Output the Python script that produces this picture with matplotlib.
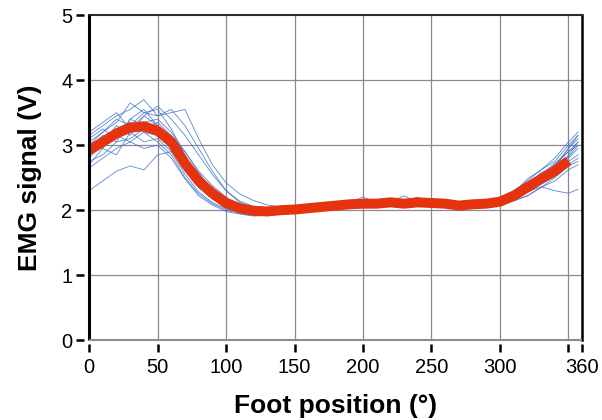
import numpy as np
import matplotlib
matplotlib.use("Agg")
import matplotlib.pyplot as plt

plt.rcParams["font.family"] = ["Liberation Sans", "DejaVu Sans"]

# foot position of the sampled points (degrees)
angles = [0, 10, 20, 30, 40, 50, 60, 70, 80, 90, 100, 110, 120, 130, 140, 150,
          160, 170, 180, 190, 200, 210, 220, 230, 240, 250, 260, 270, 280, 290,
          300, 310, 320, 330, 340, 350, 357]

# single trials (V)
trials = [
    [2.95, 3.15, 3.05, 3.40, 3.30, 3.20, 2.95, 2.60, 2.35, 2.18, 2.05, 2.00, 1.96, 1.95, 1.98, 2.00, 2.02, 2.05, 2.06, 2.08, 2.12, 2.10, 2.14, 2.09, 2.13, 2.10, 2.12, 2.06, 2.08, 2.11, 2.15, 2.25, 2.40, 2.55, 2.72, 2.90, 3.00],
    [2.80, 3.05, 3.30, 3.15, 3.45, 3.30, 3.10, 2.75, 2.45, 2.22, 2.08, 2.02, 1.98, 1.97, 1.99, 2.02, 2.01, 2.04, 2.08, 2.07, 2.09, 2.12, 2.10, 2.13, 2.11, 2.09, 2.11, 2.08, 2.07, 2.12, 2.10, 2.20, 2.30, 2.45, 2.60, 2.85, 3.05],
    [3.10, 3.25, 3.10, 3.40, 3.55, 3.30, 3.00, 2.65, 2.38, 2.20, 2.06, 1.98, 1.95, 1.96, 1.97, 1.99, 2.03, 2.02, 2.06, 2.10, 2.08, 2.11, 2.15, 2.08, 2.10, 2.13, 2.08, 2.09, 2.10, 2.08, 2.12, 2.24, 2.38, 2.58, 2.65, 2.95, 3.15],
    [2.70, 2.95, 2.85, 3.20, 3.05, 3.10, 2.90, 2.55, 2.28, 2.12, 2.02, 1.97, 1.94, 1.93, 1.96, 1.98, 2.00, 2.03, 2.04, 2.06, 2.07, 2.09, 2.10, 2.11, 2.08, 2.10, 2.09, 2.05, 2.07, 2.09, 2.11, 2.18, 2.28, 2.40, 2.52, 2.70, 2.80],
    [3.20, 3.35, 3.50, 3.25, 3.45, 3.60, 3.40, 3.15, 2.85, 2.55, 2.30, 2.12, 2.04, 2.00, 2.01, 2.03, 2.05, 2.07, 2.06, 2.10, 2.11, 2.13, 2.12, 2.10, 2.14, 2.12, 2.11, 2.09, 2.10, 2.12, 2.16, 2.26, 2.48, 2.62, 2.80, 3.05, 3.20],
    [2.30, 2.45, 2.60, 2.68, 2.62, 2.85, 2.90, 2.70, 2.48, 2.28, 2.12, 2.03, 1.99, 1.97, 1.98, 2.00, 2.02, 2.04, 2.07, 2.08, 2.10, 2.08, 2.11, 2.12, 2.10, 2.09, 2.12, 2.08, 2.06, 2.09, 2.12, 2.20, 2.28, 2.36, 2.30, 2.26, 2.32],
    [3.00, 3.20, 3.35, 3.65, 3.50, 3.55, 3.25, 2.85, 2.50, 2.25, 2.10, 2.02, 1.98, 1.99, 2.00, 2.02, 2.04, 2.05, 2.09, 2.12, 2.20, 2.12, 2.18, 2.13, 2.15, 2.14, 2.12, 2.10, 2.12, 2.15, 2.20, 2.30, 2.45, 2.62, 2.75, 3.00, 3.15],
    [2.85, 3.00, 3.15, 3.05, 3.20, 3.05, 2.85, 2.50, 2.25, 2.10, 2.00, 1.95, 1.92, 1.93, 1.95, 1.98, 2.00, 2.02, 2.03, 2.05, 2.08, 2.07, 2.09, 2.06, 2.10, 2.08, 2.06, 2.04, 2.06, 2.07, 2.10, 2.15, 2.22, 2.35, 2.50, 2.68, 2.75],
    [3.05, 3.20, 3.40, 3.30, 3.50, 3.45, 3.50, 3.55, 3.10, 2.70, 2.42, 2.25, 2.15, 2.08, 2.05, 2.04, 2.06, 2.05, 2.08, 2.11, 2.12, 2.15, 2.13, 2.22, 2.12, 2.15, 2.13, 2.10, 2.11, 2.13, 2.18, 2.28, 2.42, 2.55, 2.70, 2.90, 3.05],
    [2.90, 3.10, 3.25, 3.35, 3.20, 3.15, 2.95, 2.62, 2.35, 2.17, 2.05, 1.99, 1.96, 1.95, 1.97, 2.00, 2.02, 2.06, 2.05, 2.07, 2.10, 2.12, 2.11, 2.12, 2.15, 2.10, 2.10, 2.07, 2.08, 2.10, 2.14, 2.22, 2.35, 2.48, 2.62, 2.80, 2.95],
    [2.75, 2.85, 3.05, 3.10, 3.25, 3.35, 3.15, 2.90, 2.60, 2.38, 2.20, 2.08, 2.02, 1.98, 1.99, 2.01, 2.03, 2.04, 2.07, 2.09, 2.10, 2.09, 2.13, 2.11, 2.12, 2.11, 2.10, 2.08, 2.09, 2.11, 2.13, 2.22, 2.32, 2.45, 2.58, 2.75, 2.85],
    [3.15, 3.30, 3.45, 3.55, 3.70, 3.45, 3.55, 3.30, 2.95, 2.60, 2.30, 2.14, 2.06, 2.02, 2.00, 2.03, 2.05, 2.08, 2.10, 2.09, 2.13, 2.14, 2.12, 2.14, 2.20, 2.12, 2.14, 2.11, 2.10, 2.14, 2.17, 2.28, 2.40, 2.55, 2.68, 2.95, 3.10],
    [2.65, 2.80, 2.95, 3.05, 2.95, 3.00, 2.80, 2.48, 2.22, 2.08, 1.98, 1.94, 1.91, 1.92, 1.94, 1.97, 1.99, 2.01, 2.03, 2.04, 2.06, 2.07, 2.08, 2.07, 2.09, 2.07, 2.05, 2.03, 2.05, 2.06, 2.09, 2.14, 2.22, 2.35, 2.45, 2.62, 2.70],
    [3.00, 2.95, 3.20, 3.25, 3.35, 3.40, 3.20, 2.90, 2.58, 2.30, 2.12, 2.04, 1.99, 1.98, 1.99, 2.01, 2.04, 2.03, 2.06, 2.08, 2.11, 2.10, 2.12, 2.14, 2.11, 2.13, 2.10, 2.09, 2.11, 2.10, 2.14, 2.25, 2.36, 2.50, 2.68, 2.82, 3.00],
]

# averaged signal (V)
mean_angles = [0, 10, 20, 30, 40, 50, 60, 70, 80, 90, 100, 110, 120, 130, 140,
               150, 160, 170, 180, 190, 200, 210, 220, 230, 240, 250, 260, 270,
               280, 290, 300, 310, 320, 330, 340, 350]
mean_signal = [2.92, 3.05, 3.18, 3.27, 3.29, 3.22, 3.05, 2.72, 2.45, 2.26, 2.11,
               2.03, 1.99, 1.98, 2.00, 2.01, 2.03, 2.05, 2.07, 2.09, 2.10, 2.10,
               2.12, 2.10, 2.12, 2.11, 2.10, 2.07, 2.09, 2.10, 2.13, 2.22, 2.35,
               2.48, 2.60, 2.76]

x_ticks = [0, 50, 100, 150, 200, 250, 300, 350, 360]
x_tick_labels = ["0", "50", "100", "150", "200", "250", "300", "", "360"]
y_ticks = [0, 1, 2, 3, 4, 5]

fig = plt.figure(figsize=(6.02, 4.2), dpi=100)
ax = fig.add_axes([0.148, 0.19, 0.819, 0.774])

for tr in trials:
    ax.plot(angles, tr, color="#3d72c8", lw=0.6, alpha=0.85, zorder=2)

ax.plot(mean_angles, mean_signal, color="#e6330f", lw=7.2, solid_capstyle="butt",
        solid_joinstyle="round", zorder=3)

ax.set_xlim(0, 360)
ax.set_ylim(0, 5)
ax.set_xticks(x_ticks)
ax.set_xticklabels(x_tick_labels)
ax.set_yticks(y_ticks)

# grid
for gx in [50, 100, 150, 200, 250, 300, 350]:
    ax.axvline(gx, color="#8c8795", lw=0.9, zorder=1)
for gy in [1, 2, 3, 4]:
    ax.axhline(gy, color="#8c8795", lw=0.9, zorder=1)

# ticks sit a little away from the frame
ax.spines["left"].set_position(("outward", 4))
ax.spines["bottom"].set_position(("outward", 3))
ax.spines["left"].set_visible(False)
ax.spines["bottom"].set_visible(False)
ax.spines["right"].set_linewidth(1.8)
ax.spines["right"].set_color("black")
ax.spines["top"].set_linewidth(1.5)
ax.spines["top"].set_color("#2e2a36")
ax.plot([0, 0], [0, 1], transform=ax.transAxes, color="black", lw=2.2,
        clip_on=False, zorder=5, solid_capstyle="butt")
ax.plot([0, 1], [0, 0], transform=ax.transAxes, color="#8e8a96", lw=1.5,
        clip_on=False, zorder=5, solid_capstyle="butt")

ax.tick_params(direction="out", length=6, width=1.8, colors="black",
               labelsize=14.5, pad=2)
ax.tick_params(axis="x", pad=4)

ax.set_xlabel("Foot position (°)", fontsize=19, fontweight="bold", labelpad=12)
ax.set_ylabel("EMG signal (V)", fontsize=19, fontweight="bold", labelpad=14)

fig.savefig("out.png", dpi=100)
